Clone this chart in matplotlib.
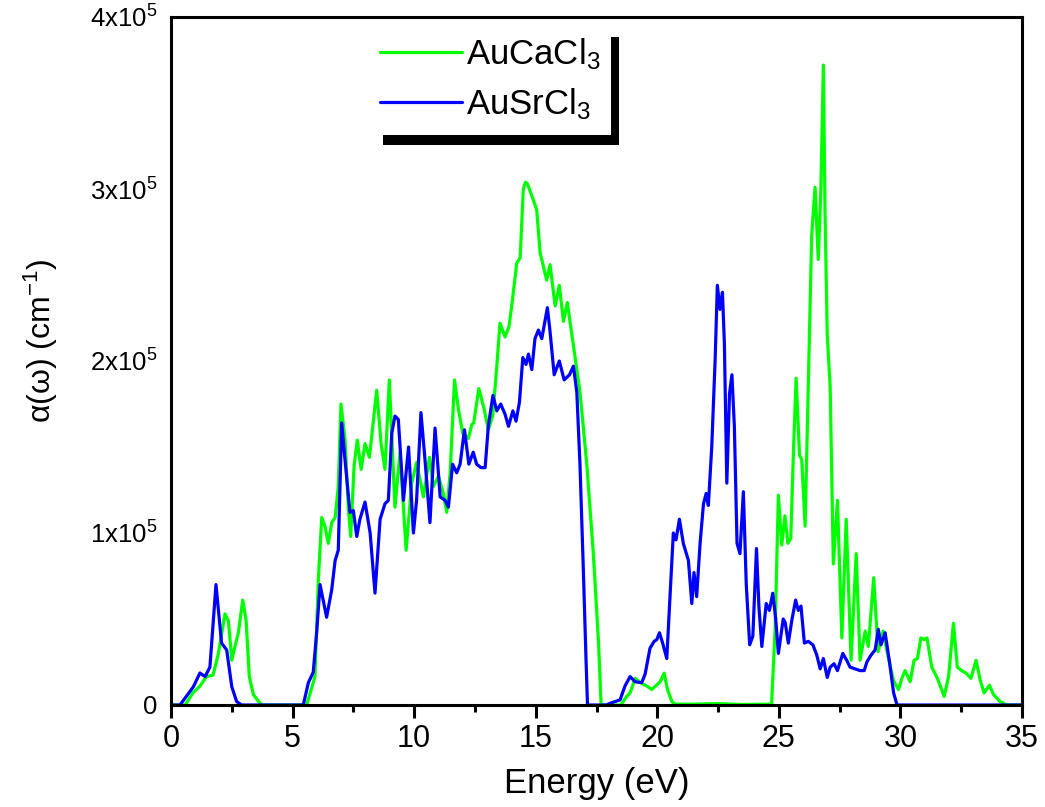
import matplotlib
matplotlib.use("Agg")
import matplotlib.pyplot as plt
from matplotlib.patches import Rectangle
from matplotlib.ticker import MultipleLocator, FixedLocator, FixedFormatter

plt.rcParams['font.family'] = ['Liberation Sans', 'DejaVu Sans']
plt.rcParams['mathtext.fontset'] = 'custom'
plt.rcParams['mathtext.rm'] = 'Liberation Sans'
plt.rcParams['mathtext.it'] = 'Liberation Sans:italic'
plt.rcParams['mathtext.bf'] = 'Liberation Sans:bold'

# ---- data (energy in eV, absorption in units of 1e5 cm^-1) ----
energy_ca = [0, 0.58, 0.9, 1.19, 1.46, 1.73, 1.95, 2.22, 2.36, 2.50, 2.63, 2.77, 2.95, 3.09, 3.22, 3.39, 3.66, 3.8,
             5.58, 5.92, 6.06, 6.20, 6.33, 6.47, 6.61, 6.75, 6.88, 6.99, 7.16, 7.29, 7.39, 7.53, 7.66, 7.82, 7.98,
             8.16, 8.46, 8.64, 8.80, 8.98, 9.21, 9.42, 9.67, 9.90, 10.1, 10.38, 10.63, 10.79, 11.0, 11.2, 11.34,
             11.48, 11.66, 11.82, 12.0, 12.23, 12.37, 12.45, 12.66, 12.88, 13.05, 13.23, 13.40, 13.53, 13.74, 13.90,
             14.03, 14.22, 14.36, 14.49, 14.58, 14.66, 14.84, 15.04, 15.18, 15.45, 15.59, 15.80, 15.97, 16.14, 16.30,
             16.55, 16.82, 17.10, 17.37, 17.58, 17.69, 18.5, 18.74, 18.88, 19.09, 19.3, 19.57, 19.77, 20.12, 20.28,
             20.42, 20.6, 20.73, 21.5, 22.5, 23.5, 24.7, 24.85, 24.98, 25.12, 25.25, 25.37, 25.49, 25.60, 25.71,
             25.85, 25.94, 26.08, 26.21, 26.35, 26.49, 26.62, 26.73, 26.83, 26.90, 26.99, 27.11, 27.24, 27.41, 27.59,
             27.77, 27.97, 28.18, 28.34, 28.55, 28.68, 28.90, 29.08, 29.29, 29.51, 29.72, 29.92, 30.06, 30.19, 30.40,
             30.56, 30.70, 30.84, 30.98, 31.09, 31.29, 31.52, 31.80, 31.98, 32.18, 32.34, 32.52, 32.70, 32.90, 33.11,
             33.28, 33.44, 33.66, 33.83, 34.10, 34.37, 35]
alpha_ca = [0, 0, 0.07, 0.11, 0.165, 0.174, 0.30, 0.53, 0.49, 0.26, 0.34, 0.42, 0.61, 0.49, 0.165, 0.06, 0.01, 0,
            0, 0.165, 0.73, 1.09, 1.04, 0.94, 1.06, 1.09, 1.27, 1.75, 1.54, 1.15, 0.98, 1.39, 1.54, 1.37, 1.52,
            1.44, 1.83, 1.52, 1.37, 1.89, 1.15, 1.47, 0.90, 1.29, 1.41, 1.21, 1.44, 1.27, 1.33, 1.23, 1.12,
            1.35, 1.89, 1.72, 1.58, 1.55, 1.63, 1.64, 1.84, 1.72, 1.60, 1.68, 1.97, 2.22, 2.14, 2.20,
            2.34, 2.57, 2.60, 3.00, 3.04, 3.03, 2.96, 2.88, 2.63, 2.47, 2.56, 2.32, 2.44, 2.23, 2.34,
            2.09, 1.82, 1.40, 0.88, 0.37, 0, 0, 0.05, 0.07, 0.155, 0.13, 0.11, 0.09, 0.135, 0.185,
            0.09, 0.02, 0.005, 0.005, 0.008, 0.003, 0.005, 0.45, 1.22, 0.93, 1.10, 0.94, 0.97, 1.47, 1.90,
            1.45, 1.43, 1.04, 1.85, 2.73, 3.01, 2.59, 3.01, 3.72, 2.86, 2.15, 1.85, 0.82, 1.19, 0.39,
            1.08, 0.26, 0.88, 0.26, 0.43, 0.34, 0.74, 0.31, 0.43, 0.27, 0.14, 0.09, 0.155, 0.20, 0.135,
            0.26, 0.27, 0.39, 0.38, 0.39, 0.22, 0.155, 0.05, 0.165, 0.475, 0.22, 0.20, 0.185, 0.155, 0.26,
            0.145, 0.07, 0.115, 0.06, 0.02, 0, 0]

energy_sr = [0, 0.37, 0.92, 1.19, 1.40, 1.60, 1.85, 2.08, 2.29, 2.50, 2.70, 2.9,
             5.44, 5.65, 5.85, 5.99, 6.13, 6.40, 6.61, 6.75, 6.88, 7.02, 7.16, 7.36, 7.50, 7.64, 7.77, 7.98,
             8.19, 8.39, 8.60, 8.80, 8.94, 9.08, 9.21, 9.35, 9.56, 9.77, 9.97, 10.1, 10.28, 10.45, 10.65, 10.86,
             11.07, 11.27, 11.41, 11.58, 11.75, 11.89, 12.07, 12.25, 12.43, 12.57, 12.75, 12.92, 13.05, 13.24,
             13.40, 13.56, 13.74, 13.88, 14.06, 14.19, 14.33, 14.47, 14.60, 14.70, 14.84, 14.97, 15.11, 15.25,
             15.48, 15.59, 15.76, 15.97, 16.17, 16.39, 16.55, 16.69, 16.82, 16.96, 17.07, 17.13, 17.9, 18.06,
             18.47, 18.67, 18.88, 19.09, 19.36, 19.50, 19.70, 19.87, 19.98, 20.09, 20.22, 20.39, 20.53, 20.66,
             20.77, 20.91, 21.07, 21.28, 21.42, 21.51, 21.62, 21.76, 21.90, 22.01, 22.10, 22.24, 22.38, 22.47,
             22.58, 22.68, 22.76, 22.86, 22.97, 23.07, 23.17, 23.28, 23.40, 23.54, 23.66, 23.80, 23.93, 24.08,
             24.18, 24.30, 24.48, 24.61, 24.75, 24.87, 24.98, 25.18, 25.26, 25.39, 25.53, 25.69, 25.80, 25.91,
             26.05, 26.21, 26.40, 26.56, 26.70, 26.83, 26.99, 27.11, 27.27, 27.41, 27.63, 27.79, 27.93, 28.14,
             28.34, 28.51, 28.62, 28.79, 28.96, 29.09, 29.20, 29.37, 29.55, 29.72, 29.86, 35]
alpha_sr = [0, 0, 0.106, 0.186, 0.165, 0.22, 0.70, 0.36, 0.32, 0.106, 0.02, 0,
            0, 0.13, 0.19, 0.42, 0.70, 0.51, 0.67, 0.84, 0.90, 1.64, 1.42, 1.12, 1.13, 0.98, 1.08, 1.18,
            1.00, 0.65, 1.08, 1.17, 1.19, 1.58, 1.68, 1.66, 1.19, 1.50, 1.00, 1.19, 1.70, 1.42, 1.06, 1.61,
            1.21, 1.19, 1.15, 1.40, 1.35, 1.40, 1.60, 1.40, 1.47, 1.40, 1.38, 1.38, 1.62, 1.80,
            1.71, 1.75, 1.69, 1.62, 1.71, 1.65, 1.76, 2.02, 1.98, 2.04, 1.95, 2.13, 2.18, 2.13,
            2.31, 2.17, 1.92, 2.00, 1.89, 1.92, 1.97, 1.82, 1.40, 0.78, 0.26, 0, 0, 0.01,
            0.03, 0.11, 0.165, 0.135, 0.13, 0.18, 0.33, 0.37, 0.38, 0.42, 0.36, 0.27, 0.65, 1.00,
            0.96, 1.08, 0.94, 0.84, 0.59, 0.77, 0.63, 0.94, 1.17, 1.23, 1.16, 1.50, 2.01, 2.44,
            2.30, 2.40, 2.10, 1.29, 1.81, 1.92, 1.62, 0.94, 0.88, 1.24, 0.70, 0.35, 0.40, 0.91,
            0.57, 0.34, 0.59, 0.55, 0.65, 0.50, 0.30, 0.50, 0.48, 0.36, 0.49, 0.61, 0.55, 0.575,
            0.36, 0.37, 0.35, 0.29, 0.21, 0.27, 0.16, 0.22, 0.24, 0.20, 0.30, 0.26, 0.22, 0.21,
            0.20, 0.20, 0.25, 0.29, 0.32, 0.44, 0.35, 0.42, 0.25, 0.07, 0, 0]

labels = ['AuCaCl$_3$', 'AuSrCl$_3$']
colors = ['#00FF00', '#0000FF']
x_ticks = [0, 5, 10, 15, 20, 25, 30, 35]
y_ticks = [0, 1e5, 2e5, 3e5, 4e5]
y_tick_labels = ['0', r'$\mathregular{1x10^{5}}$', r'$\mathregular{2x10^{5}}$',
                 r'$\mathregular{3x10^{5}}$', r'$\mathregular{4x10^{5}}$']

W, H = 1045, 807
fig = plt.figure(figsize=(W / 100, H / 100), dpi=100)
ax = fig.add_axes([171 / W, 1 - 705 / H, (1022 - 171) / W, (705 - 17) / H])

l1, = ax.plot(energy_ca, [v * 1e5 for v in alpha_ca], color=colors[0], lw=2.3, zorder=2,
              solid_joinstyle='round', solid_capstyle='round')
l2, = ax.plot(energy_sr, [v * 1e5 for v in alpha_sr], color=colors[1], lw=2.3, zorder=2.1,
              solid_joinstyle='round', solid_capstyle='round')

ax.set_xlim(0, 35)
ax.set_ylim(0, 4e5)
ax.xaxis.set_major_locator(FixedLocator(x_ticks))
ax.xaxis.set_minor_locator(MultipleLocator(2.5))
ax.yaxis.set_major_locator(FixedLocator(y_ticks))
ax.yaxis.set_major_formatter(FixedFormatter(y_tick_labels))
ax.yaxis.set_minor_locator(FixedLocator([]))

for s in ax.spines.values():
    s.set_linewidth(2.2)
ax.tick_params(axis='x', which='major', direction='out', length=9.5, width=2.2, labelsize=22, pad=4.5)
ax.tick_params(axis='x', which='minor', direction='out', length=5, width=2.2)
ax.tick_params(axis='y', which='both', length=0, labelsize=18.5, pad=10)

ax.set_xlabel('Energy (eV)', fontsize=25, va='baseline')
ax.xaxis.set_label_coords(0.5, -(793 - 705) / (705 - 17))
ax.set_ylabel('α(ω) (cm$^{-1}$)', fontsize=23, va='center')
ax.yaxis.set_label_coords(-(171 - 41) / (1022 - 171), (705 - 341) / (705 - 17))

# legend with black offset shadow
def fig_rect(x0, y0, x1, y1, color, z):
    r = Rectangle((x0 / W, 1 - y1 / H), (x1 - x0) / W, (y1 - y0) / H, transform=fig.transFigure,
                  facecolor=color, edgecolor='none', zorder=z, clip_on=False)
    ax.add_patch(r)

fig_rect(383, 37, 619, 145, 'black', 3)
fig_rect(375, 27, 611, 135, 'white', 4)
leg = ax.legend([l1, l2], labels, loc='upper left', bbox_to_anchor=(380 / W, 1 - 36 / H),
                bbox_transform=fig.transFigure, frameon=False, fontsize=25, handlelength=2.36,
                handletextpad=0.12, labelspacing=0.42, borderpad=0, borderaxespad=0)
leg.set_zorder(5)

fig.savefig('out.png', dpi=100)
